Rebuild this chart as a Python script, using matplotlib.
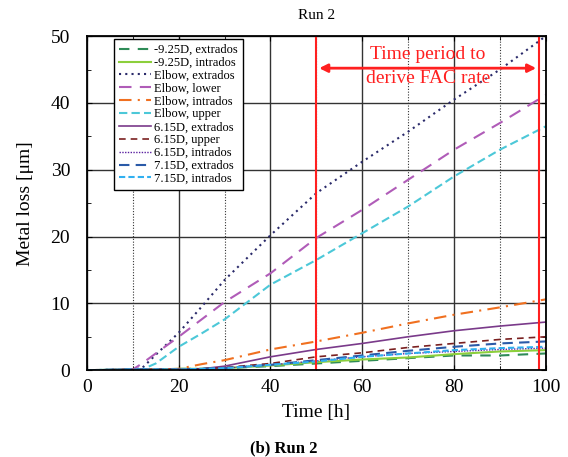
import matplotlib.pyplot as plt
from matplotlib.ticker import MultipleLocator

plt.rcParams['font.family'] = ['Liberation Serif', 'DejaVu Serif']

time_h = [0, 10, 12, 15, 20, 25, 30, 40, 50, 60, 70, 80, 90, 100]

m925_extr = [0, 0.1, 0.1, 0.1, 0.2, 0.2, 0.3, 0.6, 1.0, 1.4, 1.8, 2.2, 2.2, 2.5]
m925_intr = [0, 0.1, 0.1, 0.1, 0.2, 0.2, 0.3, 0.7, 1.2, 1.6, 1.9, 2.4, 2.8, 3.0]
elb_extr = [0, 0.1, 0.3, 2.3, 5.6, 9.5, 13.5, 20.2, 26.5, 31.2, 35.7, 40.5, 45.0, 50.0]
elb_lower = [0, 0.1, 1.0, 2.5, 5.0, 7.6, 10.2, 14.5, 19.8, 24.0, 28.5, 33.0, 37.0, 41.2]
elb_intr = [0, 0.1, 0.1, 0.1, 0.2, 0.9, 1.5, 3.1, 4.3, 5.6, 7.0, 8.3, 9.4, 10.6]
elb_upper = [0, 0.1, 0.1, 1.0, 3.5, 5.5, 7.6, 12.8, 16.5, 20.5, 24.5, 29.0, 33.0, 36.5]
d615_extr = [0, 0.1, 0.1, 0.1, 0.1, 0.2, 0.6, 2.0, 3.1, 4.0, 5.0, 5.9, 6.6, 7.2]
d615_upper = [0, 0.1, 0.1, 0.1, 0.1, 0.2, 0.4, 1.0, 2.0, 2.6, 3.4, 4.0, 4.6, 5.0]
d615_intr = [0, 0.1, 0.1, 0.1, 0.1, 0.2, 0.3, 0.8, 1.4, 2.0, 2.5, 2.8, 3.1, 3.3]
d715_extr = [0, 0.1, 0.1, 0.1, 0.1, 0.2, 0.3, 0.8, 1.5, 2.2, 2.9, 3.5, 4.0, 4.3]
d715_intr = [0, 0.1, 0.1, 0.1, 0.1, 0.2, 0.3, 0.8, 1.3, 2.0, 2.5, 3.0, 3.3, 3.5]

fac_start = 50
fac_end = 98.5

fig, ax = plt.subplots(figsize=(5.68, 4.57), dpi=100)
fig.subplots_adjust(left=0.153, right=0.961, top=0.921, bottom=0.19)

ax.plot(time_h, m925_extr, color="#2e8b57", ls=(0, (5, 4)), lw=1.5, label="-9.25D, extrados")
ax.plot(time_h, m925_intr, color="#8ccf3c", ls="-", lw=1.5, label="-9.25D, intrados")
ax.plot(time_h, elb_extr, color="#2a2a6a", ls=(0, (1, 2)), lw=1.5, label="Elbow, extrados")
ax.plot(time_h, elb_lower, color="#b05cb8", ls=(0, (6, 4)), lw=1.5, label="Elbow, lower")
ax.plot(time_h, elb_intr, color="#f07020", ls=(0, (6, 3, 1, 3)), lw=1.5, label="Elbow, intrados")
ax.plot(time_h, elb_upper, color="#4cc8d8", ls=(0, (4, 2)), lw=1.5, label="Elbow, upper")
ax.plot(time_h, d615_extr, color="#7a3a8a", ls="-", lw=1.2, label="6.15D, extrados")
ax.plot(time_h, d615_upper, color="#7a2020", ls=(0, (4, 3)), lw=1.2, label="6.15D, upper")
ax.plot(time_h, d615_intr, color="#5a20a0", ls=(0, (1, 1)), lw=1.0, label="6.15D, intrados")
ax.plot(time_h, d715_extr, color="#2a5aa8", ls=(0, (5, 3)), lw=1.5, label="7.15D, extrados")
ax.plot(time_h, d715_intr, color="#30b0f0", ls=(0, (3, 1.5)), lw=1.5, label="7.15D, intrados")

ax.axvline(fac_start, color="#ff2020", lw=1.5)
ax.axvline(fac_end, color="#ff2020", lw=1.5)
ax.annotate("", xy=(fac_start, 45.2), xytext=(fac_end, 45.2),
            arrowprops=dict(arrowstyle="<|-|>", color="#ff2020", lw=2, mutation_scale=12))
ax.text((fac_start + fac_end) / 2, 47.3, "Time period to", color="#ff2020",
        ha="center", va="center", fontsize=14)
ax.text((fac_start + fac_end) / 2, 43.7, "derive FAC rate", color="#ff2020",
        ha="center", va="center", fontsize=14)

ax.set_xlim(0, 100)
ax.set_ylim(0, 50)
ax.xaxis.set_major_locator(MultipleLocator(20))
ax.xaxis.set_minor_locator(MultipleLocator(10))
ax.yaxis.set_major_locator(MultipleLocator(10))
ax.yaxis.set_minor_locator(MultipleLocator(5))
ax.grid(True, which="major", color="#333333", lw=1.0)
ax.grid(True, which="minor", axis="x", color="#333333", lw=0.8, ls=(0, (1, 1.5)))
ax.set_axisbelow(True)
ax.tick_params(which="both", direction="in", top=True, right=True, labelsize=14)
ax.tick_params(axis="y", which="both", pad=12)
ax.tick_params(axis="x", which="both", pad=6)
ax.tick_params(which="minor", length=3)
for s in ax.spines.values():
    s.set_linewidth(1.3)

ax.set_xlabel("Time [h]", fontsize=14, labelpad=6)
ax.set_ylabel("Metal loss [\u03bcm]", fontsize=14, labelpad=12)
ax.set_title("Run 2", fontsize=11, pad=12)

leg = ax.legend(loc="upper left", bbox_to_anchor=(0.059, 0.991), borderaxespad=0,
                fontsize=9, frameon=True, fancybox=False, edgecolor="black",
                handlelength=2.6, handletextpad=0.2, labelspacing=0.07,
                borderpad=0.4, framealpha=1)
leg.get_frame().set_linewidth(1.0)

fig.text(0.5, 0.01, "(b) Run 2", ha="center", fontsize=12, fontweight="bold")

plt.savefig("out.png")
